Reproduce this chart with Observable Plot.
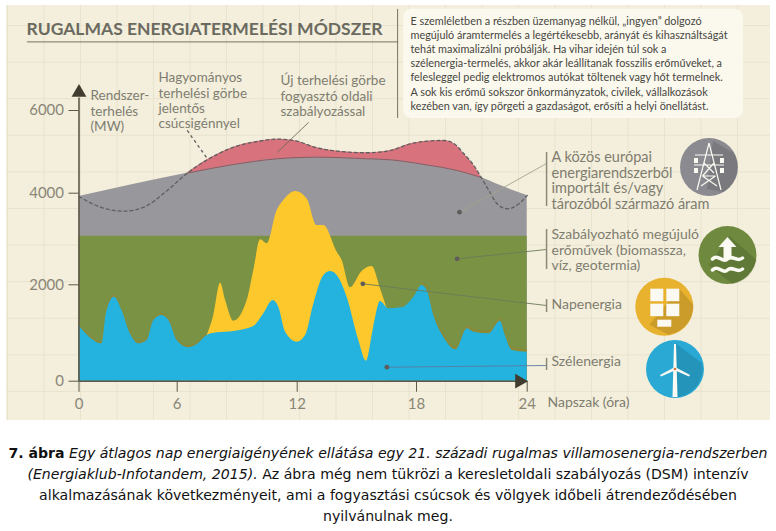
<!DOCTYPE html>
<html lang="hu">
<head>
<meta charset="utf-8">
<script src="https://cdn.jsdelivr.net/npm/d3@7"></script>
<script src="https://cdn.jsdelivr.net/npm/@observablehq/plot@0.6"></script>
<style>
html,body{margin:0;padding:0;background:#fff;width:776px;height:531px;overflow:hidden}
#chart{position:absolute;left:6px;top:5px;width:764px;height:415px;
 background-color:#f3efdc;
 background-image:linear-gradient(#e8e3cd 1px,transparent 1px),linear-gradient(90deg,#e8e3cd 1px,transparent 1px);
 background-size:36.5px 36.6px;background-position:1px 20px}
#chart svg{display:block;overflow:visible}
#caption{position:absolute;left:0;top:443px;width:776px;text-align:center;white-space:nowrap;
 font-family:"DejaVu Sans",sans-serif;font-size:14.1px;line-height:21px;color:#111}
</style>
</head>
<body>
<div id="chart"></div>
<div id="caption"><b>7. ábra</b> <i>Egy átlagos nap energiaigényének ellátása egy 21. századi rugalmas villamosenergia-rendszerben<br>(Energiaklub-Infotandem, 2015).</i> Az ábra még nem tükrözi a keresletoldali szabályozás (DSM) intenzív<br>alkalmazásának következményeit, ami a fogyasztási csúcsok és völgyek időbeli átrendeződésében<br>nyilvánulnak meg.</div>
<script>
// Hours of day, load curves and generation (MW)
const windHours = [0,.53,1.41,1.67,2.16,2.63,3.14,3.65,4.16,4.57,5.08,5.55,6,6.58,7,7.5,8,8.83,9.83,10.33,10.8,11.08,11.42,12,12.42,12.84,13.34,13.68,14.01,14.51,15.1,15.48,15.85,16.19,16.61,17.19,17.36,17.87,18.31,18.58,18.94,19.48,20.15,20.75,21.11,21.92,22.55,22.82,23.19,24];
const windMW = [1156,948,775,1398,1744,1467,983,775,844,1259,1363,1225,844,692,761,948,1003,1031,1135,1398,1675,1536,1017,810,948,1605,2204,2291,2204,1744,844,415,1121,1654,1502,1522,1536,1744,1986,1882,1363,913,650,1086,1017,983,1246,948,637,602];
const solarHours = [7.5,7.83,8.17,8.42,8.83,9.5,9.83,10.17,10.5,11,11.33,11.92,12.5,13,13.34,14.01,14.26,14.68,15.26,15.77,16.19,16.52];
const windPlusSolarMW = [948,1363,2035,1675,1246,1675,2313,2981,2895,3622,3840,4040,3876,3294,3294,2712,2531,1938,2291,2400,1917,1502];
const newLoadHours = [0,6.5,8.83,11,13,15.5,16.69,18.4,20.2,21.47,22.55,24];
const newLoadMW = [3928,4484,4695,4832,4871,4832,4808,4695,4549,4387,4186,3950];
const oldLoadHours = [0,1.31,2.73,3.96,5.39,6.5,7.5,8.83,10,11,11.83,13,14.17,15.5,16.69,17.7,18.4,19.48,20,20.57,21.11,21.5,21.92,22.37,22.92,23.55,24];
const oldLoadMW = [3928,3695,3608,3695,4065,4484,4808,5113,5251,5307,5275,5099,5009,4978,5033,5195,5251,5275,5210,4953,4670,4387,4065,3769,3660,3769,3950];
const renewableHours = [0,24];
const renewableMW = [3060,3060];
const xTicks = [0,6,12,18,24];
const yTicks = [0,2000,4000,6000];

const zip = (a,b) => a.map((x,i)=>({x,y:b[i]}));
const wind = zip(windHours,windMW), solar = zip(solarHours,windPlusSolarMW),
      newLoad = zip(newLoadHours,newLoadMW), oldLoad = zip(oldLoadHours,oldLoadMW),
      renew = zip(renewableHours,renewableMW),
      peak = oldLoad.filter(d=>d.x>=6.5 && d.x<=21.5);

const ink="#5d5848", soft="#8a8677", label="#7f7d70";
const font="Lato, 'Noto Sans', sans-serif";
const ml=72.5, mt=105;
const smooth="monotone-x";
const txt=(s,dx,dy,o={})=>Plot.text([s],{text:d=>d,frameAnchor:"top-left",dx:dx-6-ml,dy:dy-5-mt,fontFamily:font,fontSize:14,fill:label,lineHeight:1.1,...o});
const link=(x1,y1,x2,y2,o={})=>Plot.link([0],{x1:()=>x1,y1:()=>y1,x2:()=>x2,y2:()=>y2,stroke:"#6e6c5c",strokeWidth:.9,...o});
const bar=(y1,y2)=>Plot.ruleX([25.05],{y1:()=>y1,y2:()=>y2,stroke:"#8c8a76",strokeWidth:1.5});
const dot=(x,y)=>Plot.dot([0],{x:()=>x,y:()=>y,r:2.4,fill:"#5f5c5c"});

// Decorative round icons
function icons(){
  const g=d3.create("svg:g");
  const put=(cx,cy,fill,shade,draw)=>{
    const c=g.append("g").attr("transform",`translate(${cx-6},${cy-5})`);
    c.append("circle").attr("r",29).attr("fill",fill);
    c.append("path").attr("d",shade).attr("fill","#000").attr("opacity",.12);
    draw(c);
  };
  const white="#fbfaf2";
  put(709,167,"#8b8a90","M4,-26 L25,-14 A29,29 0 0 1 14,25 L-2,22 Z",c=>{
    c.append("path").attr("fill","none").attr("stroke",white).attr("stroke-width",1.2)
     .attr("d","M0,-24 L-12,23 M0,-24 L12,23 M-14,-12 H14 M-15,-2 H15 M-5,-4 L5,6 M5,-4 L-6.5,9 M-6.5,9 L8,19 M6.5,9 L-8,19 M-6.5,9 H6.5");
    [-13,13].forEach(x=>[-9,1].forEach(y=>c.append("rect").attr("x",x-2).attr("y",y).attr("width",4).attr("height",5).attr("fill",white)));
  });
  put(727.5,255,"#6f8a3f","M2,-19 L29,5 A29,29 0 0 1 5,29 L-19,10 Z",c=>{
    c.append("path").attr("fill",white).attr("d","M0,-18 L9,-8 H4 V4 H-4 V-8 H-9 Z");
    c.append("path").attr("fill","none").attr("stroke",white).attr("stroke-width",3.5).attr("stroke-linecap","round")
     .attr("d","M-15,4 C-9,-2 -5,9 0,4 C5,-1 9,8 15,3 M-15,15 C-9,9 -5,20 0,15 C5,10 9,19 15,14");
  });
  put(664.3,306.7,"#e8b22f","M15,-18 L29,-2 A29,29 0 0 1 4,28 L-15,18 Z",c=>{
    [[-14,-18],[2,-18],[-14,-3],[2,-3]].forEach(([x,y])=>c.append("rect").attr("x",x).attr("y",y).attr("width",13).attr("height",12.5).attr("fill",white));
    c.append("rect").attr("x",-7).attr("y",13).attr("width",14).attr("height",7).attr("fill",white);
  });
  put(675,369,"#29a9d4","M0,-26 L27,-6 A29,29 0 0 1 4,28 L-2,28 Z",c=>{
    c.append("path").attr("fill",white).attr("d","M-1,-25 L1,-25 L2.5,28 L-2.5,28 Z");
    c.append("path").attr("fill",white).attr("d","M0,-2 L15,6 L14,7.5 L-1,1 Z M0,-2 L-15,6 L-14,7.5 L1,1 Z");
    c.append("circle").attr("r",1.3).attr("fill","#d9723c");
  });
  return g.node();
}

const chart = Plot.plot({
  width:764,height:415,
  marginLeft:ml,marginTop:mt,marginRight:764-520.7,marginBottom:415-375.7,
  style:{background:"transparent"},
  x:{type:"linear",domain:xTicks,range:[72.5,170.7,290.7,410,520.7]},
  y:{type:"linear",domain:yTicks,range:[375.7,279.3,187.7,105]},
  marks:[
    Plot.areaY(peak,{x:"x",y:"y",fill:"#d8727c",curve:smooth}),
    Plot.areaY(newLoad,{x:"x",y:"y",fill:"#98979c",curve:smooth}),
    Plot.line(newLoad.filter(d=>d.x>=6.5&&d.x<=21.5),{x:"x",y:"y",stroke:"#8f5a62",strokeWidth:1,curve:smooth}),
    Plot.areaY(renew,{x:"x",y:"y",fill:"#7a9244"}),
    // soft brownish edge the green shows above the wind area
    Plot.areaY(wind.filter(d=>d.x>=18.31),{x:"x",y:"y",fill:"#8a8a38",dy:-3,curve:smooth}),
    Plot.areaY(wind.filter(d=>d.x<=7.5),{x:"x",y:"y",fill:"#8a8a38",dy:-2,curve:smooth}),
    Plot.areaY(solar,{x:"x",y:"y",fill:"#fdc82b",curve:smooth}),
    Plot.areaY(wind,{x:"x",y:"y",fill:"#23b3de",curve:smooth}),
    Plot.line(oldLoad,{x:"x",y:"y",stroke:"#5f5f60",strokeWidth:1.3,strokeDasharray:"3 3",curve:smooth}),
    // axes
    Plot.axisY({ticks:yTicks,tickSize:10,tickPadding:5,tickFormat:d=>String(d),label:null,fontSize:15,fontFamily:font,color:soft,stroke:ink}),
    Plot.axisX({ticks:xTicks,tickSize:11,tickPadding:6,tickFormat:d=>String(d),label:null,fontSize:15,fontFamily:font,color:soft,stroke:ink}),
    Plot.ruleX([0],{y1:0,y2:6300,stroke:ink,strokeWidth:1.6}),
    Plot.ruleY([0],{x1:0,x2:23.6,stroke:ink,strokeWidth:1.6}),
    Plot.dot([0],{x:()=>0,y:()=>6437,symbol:"triangle",r:5.5,fill:"#403c30"}),
    Plot.dot([0],{x:()=>23.58,y:()=>0,symbol:"triangle",r:5.5,fill:"#403c30",rotate:90}),
    // title and dividers
    txt("RUGALMAS ENERGIATERMELÉSI MÓDSZER",26,21,{fontSize:17.5,fontWeight:"bold",fill:"#6b6a60"}),
    Plot.ruleY([7659],{x1:-3.15,x2:17.1,stroke:"#75735f",strokeWidth:1}),
    Plot.ruleX([17.05],{y1:8446,y2:5806,stroke:"#75735f",strokeWidth:1}),
    // note box
    Plot.rect([0],{x1:()=>17.35,x2:()=>35.72,y1:()=>8446,y2:()=>5808,rx:8,fill:"#fbf9ee"}),
    txt("E szemléletben a részben üzemanyag nélkül, „ingyen” dolgozó\nmegújuló áramtermelés a legértékesebb, arányát és kihasználtságát\ntehát maximalizálni próbálják. Ha vihar idején túl sok a\nszélenergia-termelés, akkor akár leállítanak fosszilis erőműveket, a\nfelesleggel pedig elektromos autókat töltenek vagy hőt termelnek.\nA sok kis erőmű sokszor önkormányzatok, civilek, vállalkozások\nkezében van, így pörgeti a gazdaságot, erősíti a helyi önellátást.",410,14,{fontSize:10.85,fill:"#47463f",lineHeight:1.31}),
    // annotations
    txt("Rendszer-\nterhelés\n(MW)",90,88,{fontSize:13.5,lineHeight:1.17}),
    txt("Hagyományos\nterhelési görbe\njelentős\ncsúcsigénnyel",158,71,{fontSize:13.5,lineHeight:1.13}),
    txt("Új terhelési görbe\nfogyasztó oldali\nszabályozással",280,73,{fontSize:13.5,lineHeight:1.17}),
    link(12.57,5711,11,4985),
    link(6.5,5517,7.5,4840,{strokeDasharray:"3 3",stroke:"#5f5f60",strokeWidth:1.3}),
    link(20.33,3586,25.05,4719,{stroke:"#a3a38a"}),dot(20.33,3586),
    link(20.2,2568,25.05,2771,{stroke:"#6b7a58"}),dot(20.2,2568),
    link(15.3,2022,25.05,1570,{stroke:"#6b7a58"}),dot(15.3,2022),
    link(16.51,290,25.05,326,{stroke:"#5c7aa0"}),dot(16.51,290),
    bar(4985,3710),bar(3207,2334),bar(1695,1425),bar(473,222),
    txt("A közös európai\nenergiarendszerből\nimportált és/vagy\ntározóból származó áram",551,151,{fontSize:14.5,lineHeight:1.06}),
    txt("Szabályozható megújuló\nerőművek (biomassza,\nvíz, geotermia)",551,228,{fontSize:14,lineHeight:1.1}),
    txt("Napenergia",551,298,{fontSize:14}),
    txt("Szélenergia",551,355,{fontSize:14}),
    txt("Napszak (óra)",547,396,{fontSize:14}),
    icons
  ]
});
document.getElementById("chart").append(chart);
</script>
</body>
</html>
